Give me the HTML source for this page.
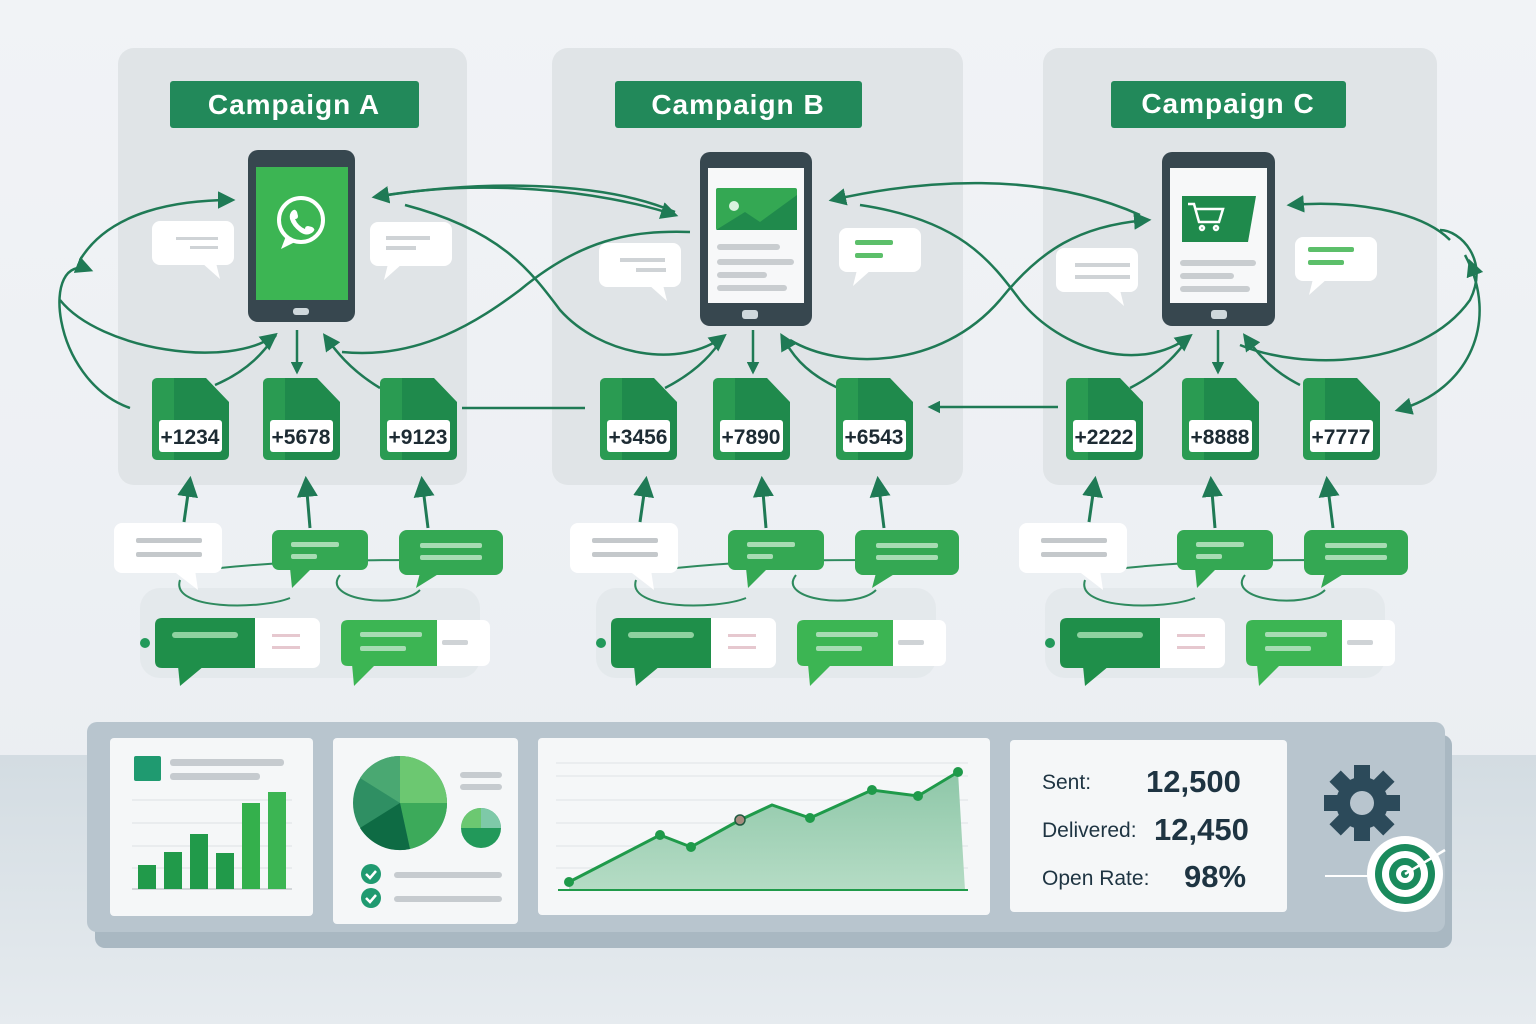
<!DOCTYPE html>
<html><head><meta charset="utf-8"><style>
html,body{margin:0;padding:0;width:1536px;height:1024px;overflow:hidden;background:#eef1f4}
svg{display:block}
text{font-family:"Liberation Sans",sans-serif}
</style></head><body>
<svg width="1536" height="1024" viewBox="0 0 1536 1024" xmlns="http://www.w3.org/2000/svg">
<defs>
<linearGradient id="bg" x1="0" y1="0" x2="0" y2="1"><stop offset="0" stop-color="#f1f3f6"/><stop offset="1" stop-color="#e9edf1"/></linearGradient>
<linearGradient id="floor" x1="0" y1="0" x2="0" y2="1"><stop offset="0" stop-color="#d3dce2"/><stop offset="1" stop-color="#e6ebef"/></linearGradient>
<linearGradient id="area" x1="0" y1="0" x2="0" y2="1"><stop offset="0" stop-color="#8ec7a8"/><stop offset="1" stop-color="#b5dcc5"/></linearGradient>
<marker id="ah" viewBox="0 0 10 10" refX="8" refY="5" markerWidth="7" markerHeight="7" orient="auto-start-reverse"><path d="M0,0L10,5L0,10z" fill="#1f7a55"/></marker>
<marker id="ah2" viewBox="0 0 10 10" refX="8" refY="5" markerWidth="5" markerHeight="5" orient="auto-start-reverse"><path d="M0,0L10,5L0,10z" fill="#1f7a55"/></marker>
<g id="sim"><path d="M0,6Q0,0 6,0H54L77,24V76Q77,82 71,82H6Q0,82 0,76z" fill="#1f8a4c"/><path d="M0,6Q0,0 6,0H22V82H6Q0,82 0,76z" fill="#2fa355" opacity=".7"/><rect x="7" y="42" width="63" height="32" rx="3" fill="#fff"/></g>
<g id="wb"><rect x="0" y="0" width="82" height="44" rx="8" fill="#fff"/><path d="M50,42L68,58L64,42z" fill="#fff"/></g>
</defs>
<rect width="1536" height="1024" fill="url(#bg)"/>
<rect y="755" width="1536" height="269" fill="url(#floor)"/>

<!-- panels -->
<rect x="118" y="48" width="349" height="437" rx="16" fill="#e0e4e7"/>
<rect x="552" y="48" width="411" height="437" rx="16" fill="#e0e4e7"/>
<rect x="1043" y="48" width="394" height="437" rx="16" fill="#e0e4e7"/>

<!-- headers -->
<rect x="170" y="81" width="249" height="47" rx="3" fill="#22895a"/>
<text x="294" y="114" text-anchor="middle" font-size="28" font-weight="bold" fill="#fff" letter-spacing="1">Campaign A</text>
<rect x="615" y="81" width="247" height="47" rx="3" fill="#22895a"/>
<text x="738" y="114" text-anchor="middle" font-size="28" font-weight="bold" fill="#fff" letter-spacing="1">Campaign B</text>
<rect x="1111" y="81" width="235" height="47" rx="3" fill="#22895a"/>
<text x="1228" y="113" text-anchor="middle" font-size="28" font-weight="bold" fill="#fff" letter-spacing="1">Campaign C</text>

<!-- connectors -->
<g fill="none" stroke="#1f7a55" stroke-width="2.5">
<path d="M130,408 C50,380 40,250 90,270" marker-end="url(#ah)"/>
<path d="M80,260 C110,210 180,200 232,200" marker-end="url(#ah)"/>
<path d="M60,300 C100,350 230,370 275,335" marker-end="url(#ah)"/>
<path d="M215,385 C250,370 265,350 276,335"/>
<path d="M297,330 V372" marker-end="url(#ah2)"/>
<path d="M380,388 C350,370 335,350 325,336" marker-end="url(#ah)"/>
<path d="M342,352 C420,360 480,320 520,290 C580,240 630,230 690,232"/>
<path d="M405,205 C500,230 530,270 560,310 C600,355 680,370 724,336" marker-end="url(#ah)"/>
<path d="M675,212 C600,180 480,180 375,197" marker-end="url(#ah)"/>
<path d="M375,197 C480,178 600,190 675,215" marker-end="url(#ah)"/>
<path d="M462,408 H585"/>
<path d="M665,388 C700,370 715,350 724,336"/>
<path d="M753,330 V372" marker-end="url(#ah2)"/>
<path d="M838,388 C800,370 790,350 782,336" marker-end="url(#ah)"/>
<path d="M790,340 C840,370 940,370 1000,300 C1040,250 1080,225 1148,220" marker-end="url(#ah)"/>
<path d="M860,205 C960,220 990,260 1020,300 C1060,350 1140,375 1190,336" marker-end="url(#ah)"/>
<path d="M1140,215 C1040,170 920,180 832,200" marker-end="url(#ah)"/>
<path d="M1058,407 H930" marker-end="url(#ah2)"/>
<path d="M1130,388 C1165,370 1180,350 1190,336"/>
<path d="M1218,330 V372" marker-end="url(#ah2)"/>
<path d="M1300,385 C1270,370 1255,350 1245,336" marker-end="url(#ah)"/>
<path d="M1240,345 C1300,370 1420,370 1470,300 C1490,260 1460,230 1440,230"/>
<path d="M1450,240 C1420,210 1350,200 1290,205" marker-end="url(#ah)"/>
<path d="M1465,255 C1500,320 1470,390 1398,410" marker-end="url(#ah)"/>
<path d="M1473,270 L1470,262" marker-end="url(#ah)"/>
</g>

<!-- phones -->
<rect x="248" y="150" width="107" height="172" rx="10" fill="#37474f"/>
<rect x="256" y="167" width="92" height="133" fill="#3cb553"/>
<rect x="293" y="308" width="16" height="7" rx="3" fill="#cfd8dc"/>
<circle cx="301" cy="220" r="22" fill="none" stroke="#fff" stroke-width="4"/>
<path d="M286,236 L281,249 L295,242" fill="#fff"/>
<path d="M292,211 q3,-3 5,1 l1,4 q0,3 -3,3 q3,7 10,10 q0,-3 3,-3 l4,1 q4,2 1,5 q-6,5 -13,0 q-8,-6 -10,-13 q-1,-5 2,-8z" fill="#fff"/>

<rect x="700" y="152" width="112" height="174" rx="10" fill="#37474f"/>
<rect x="708" y="168" width="96" height="135" fill="#f7f8f9"/>
<rect x="742" y="310" width="16" height="9" rx="3" fill="#cfd8dc"/>
<rect x="716" y="188" width="81" height="42" rx="2" fill="#34a853"/>
<path d="M716,230 L745,212 L760,222 L797,195 V230z" fill="#208a4c"/>
<circle cx="734" cy="206" r="5" fill="#d9f2df"/>
<g fill="#c9cdd0"><rect x="717" y="244" width="63" height="6" rx="3"/><rect x="717" y="259" width="77" height="6" rx="3"/><rect x="717" y="272" width="50" height="6" rx="3"/><rect x="717" y="285" width="70" height="6" rx="3"/></g>

<rect x="1162" y="152" width="113" height="174" rx="10" fill="#37474f"/>
<rect x="1170" y="168" width="97" height="135" fill="#f7f8f9"/>
<rect x="1211" y="310" width="16" height="9" rx="3" fill="#cfd8dc"/>
<path d="M1182,196 H1256 L1248,242 H1182z" fill="#1f8a4c"/>
<g stroke="#fff" stroke-width="2.5" fill="none"><path d="M1188,204 h6 l5,18 h20 l4,-13 h-27"/><circle cx="1202" cy="228" r="2"/><circle cx="1216" cy="228" r="2"/></g>
<g fill="#c9cdd0"><rect x="1180" y="260" width="76" height="6" rx="3"/><rect x="1180" y="273" width="54" height="6" rx="3"/><rect x="1180" y="286" width="70" height="6" rx="3"/></g>

<!-- side speech bubbles -->
<use href="#wb" x="152" y="221"/><g fill="#cfd3d6"><rect x="176" y="237" width="42" height="3"/><rect x="190" y="246" width="28" height="3"/></g>
<g transform="translate(452,222) scale(-1,1)"><use href="#wb" x="0" y="0"/></g><g fill="#cfd3d6"><rect x="386" y="236" width="44" height="4"/><rect x="386" y="246" width="30" height="4"/></g>
<use href="#wb" x="599" y="243"/><g fill="#cfd3d6"><rect x="620" y="258" width="45" height="4"/><rect x="636" y="268" width="30" height="4"/></g>
<g transform="translate(921,228) scale(-1,1)"><use href="#wb" x="0" y="0"/></g><g fill="#5cbf6a"><rect x="855" y="240" width="38" height="5" rx="2"/><rect x="855" y="253" width="28" height="5" rx="2"/></g>
<use href="#wb" x="1056" y="248"/><g fill="#cfd3d6"><rect x="1075" y="263" width="55" height="4"/><rect x="1075" y="275" width="55" height="4"/></g>
<g transform="translate(1377,237) scale(-1,1)"><use href="#wb" x="0" y="0"/></g><g fill="#5cbf6a"><rect x="1308" y="247" width="46" height="5" rx="2"/><rect x="1308" y="260" width="36" height="5" rx="2"/></g>

<!-- sims -->
<g font-size="21" font-weight="bold" fill="#1d2b33" text-anchor="middle">
<use href="#sim" x="152" y="378"/><text x="190" y="444">+1234</text>
<use href="#sim" x="263" y="378"/><text x="301" y="444">+5678</text>
<use href="#sim" x="380" y="378"/><text x="418" y="444">+9123</text>
<use href="#sim" x="600" y="378"/><text x="638" y="444">+3456</text>
<use href="#sim" x="713" y="378"/><text x="751" y="444">+7890</text>
<use href="#sim" x="836" y="378"/><text x="874" y="444">+6543</text>
<use href="#sim" x="1066" y="378"/><text x="1104" y="444">+2222</text>
<use href="#sim" x="1182" y="378"/><text x="1220" y="444">+8888</text>
<use href="#sim" x="1303" y="378"/><text x="1341" y="444">+7777</text>
</g>

<!-- bottom bubble groups -->
<g id="grp">
<g fill="none" stroke="#1f7a55" stroke-width="3">
<path d="M184,522 L190,480" marker-end="url(#ah)"/>
<path d="M310,528 L306,480" marker-end="url(#ah)"/>
<path d="M428,528 L422,480" marker-end="url(#ah)"/>
</g>
<rect x="140" y="588" width="340" height="90" rx="20" fill="#e4e9ec"/>
<g fill="none" stroke="#2e8a5e" stroke-width="2"><path d="M180,580 C170,610 260,610 290,598"/><path d="M220,568 C300,560 360,560 420,560"/><path d="M340,575 C320,600 400,610 420,590"/></g>
<rect x="114" y="523" width="108" height="50" rx="8" fill="#fff"/><path d="M172,570 L198,590 L195,570z" fill="#fff"/>
<g fill="#c4c8cb"><rect x="136" y="538" width="66" height="5" rx="2"/><rect x="136" y="552" width="66" height="5" rx="2"/></g>
<rect x="272" y="530" width="96" height="40" rx="7" fill="#34a853"/><path d="M290,568 L292,588 L312,568z" fill="#34a853"/>
<g fill="#a7dcb3"><rect x="291" y="542" width="48" height="5" rx="2"/><rect x="291" y="554" width="26" height="5" rx="2"/></g>
<rect x="399" y="530" width="104" height="45" rx="8" fill="#34a853"/><path d="M420,573 L416,588 L440,573z" fill="#34a853"/>
<g fill="#a7dcb3"><rect x="420" y="543" width="62" height="5" rx="2"/><rect x="420" y="555" width="62" height="5" rx="2"/></g>
<circle cx="145" cy="643" r="5" fill="#22995a"/>
<rect x="155" y="618" width="165" height="50" rx="7" fill="#fff"/>
<path d="M162,618 H255 V668 H162 Q155,668 155,661 V625 Q155,618 162,618z" fill="#1f8f4a"/><path d="M178,666 L180,686 L204,666z" fill="#1f8f4a"/>
<rect x="172" y="632" width="66" height="6" rx="3" fill="#8fd1a0"/>
<g fill="#e6c8cf"><rect x="272" y="634" width="28" height="3"/><rect x="272" y="646" width="28" height="3"/></g>
<rect x="341" y="620" width="149" height="46" rx="7" fill="#fff"/>
<path d="M348,620 H437 V666 H348 Q341,666 341,659 V627 Q341,620 348,620z" fill="#3cb553"/><path d="M352,664 L354,686 L376,664z" fill="#3cb553"/>
<g fill="#a7dcb3"><rect x="360" y="632" width="62" height="5" rx="2"/><rect x="360" y="646" width="46" height="5" rx="2"/></g>
<rect x="442" y="640" width="26" height="5" rx="2" fill="#cfd3d6"/>
</g>
<use href="#grp" x="456" y="0"/>
<use href="#grp" x="905" y="0"/>

<!-- dashboard -->
<rect x="95" y="735" width="1357" height="213" rx="10" fill="#a9b8c2"/>
<rect x="87" y="722" width="1358" height="210" rx="10" fill="#b8c5ce"/>
<rect x="110" y="738" width="203" height="178" rx="4" fill="#f5f7f8"/>
<rect x="134" y="756" width="27" height="25" rx="2" fill="#1f9a70"/>
<g fill="#c6cbcf"><rect x="170" y="759" width="114" height="7" rx="3"/><rect x="170" y="773" width="90" height="7" rx="3"/></g>
<g stroke="#dde1e4"><line x1="132" y1="800" x2="292" y2="800"/><line x1="132" y1="823" x2="292" y2="823"/><line x1="132" y1="846" x2="292" y2="846"/><line x1="132" y1="868" x2="292" y2="868"/></g>
<line x1="132" y1="889" x2="292" y2="889" stroke="#b0b6ba"/>
<g fill="#219a4a"><rect x="138" y="865" width="18" height="24"/><rect x="164" y="852" width="18" height="37"/><rect x="190" y="834" width="18" height="55"/><rect x="216" y="853" width="18" height="36"/><rect x="242" y="803" width="18" height="86" fill="#34b04c"/><rect x="268" y="792" width="18" height="97" fill="#3cb553"/></g>

<rect x="333" y="738" width="185" height="186" rx="4" fill="#f5f7f8"/>
<circle cx="400" cy="803" r="47" fill="#2f8f63"/>
<path d="M400,803 L400,756 A47,47 0 0 1 447,803z" fill="#6cc871"/>
<path d="M400,803 L447,803 A47,47 0 0 1 410,849z" fill="#3caa5a"/>
<path d="M400,803 L410,849 A47,47 0 0 1 360,828z" fill="#0e6b44"/>
<path d="M400,803 L400,756 A47,47 0 0 0 360,778z" fill="#4aa872"/>
<circle cx="481" cy="828" r="20" fill="#22995a"/><path d="M481,828 L481,808 A20,20 0 0 1 501,828z" fill="#7ec9a8"/><path d="M461,828 A20,20 0 0 1 481,808 V828z" fill="#6cc871"/>
<g fill="#c6cbcf"><rect x="460" y="772" width="42" height="6" rx="3"/><rect x="460" y="784" width="42" height="6" rx="3"/><rect x="394" y="872" width="108" height="6" rx="3"/><rect x="394" y="896" width="108" height="6" rx="3"/></g>
<circle cx="371" cy="874" r="10" fill="#1f9a70"/><circle cx="371" cy="898" r="10" fill="#1f9a70"/>
<path d="M366,874 l4,4 l6,-7 M366,898 l4,4 l6,-7" stroke="#fff" stroke-width="2.5" fill="none"/>

<rect x="538" y="738" width="452" height="177" rx="4" fill="#f5f7f8"/>
<g stroke="#dfe3e6"><line x1="556" y1="763" x2="968" y2="763"/><line x1="556" y1="776" x2="968" y2="776"/><line x1="556" y1="800" x2="968" y2="800"/><line x1="556" y1="823" x2="968" y2="823"/><line x1="556" y1="846" x2="968" y2="846"/><line x1="556" y1="868" x2="968" y2="868"/></g>
<path d="M569,882 L660,835 L691,847 L740,820 L772,805 L810,818 L872,790 L918,796 L958,772 L965,890 L569,890z" fill="url(#area)"/>
<polyline points="569,882 660,835 691,847 740,820 772,805 810,818 872,790 918,796 958,772" fill="none" stroke="#1f9a4a" stroke-width="3"/>
<line x1="558" y1="890" x2="968" y2="890" stroke="#1f9a4a" stroke-width="2"/>
<g fill="#1f9a4a"><circle cx="569" cy="882" r="5"/><circle cx="660" cy="835" r="5"/><circle cx="691" cy="847" r="5"/><circle cx="810" cy="818" r="5"/><circle cx="872" cy="790" r="5"/><circle cx="918" cy="796" r="5"/><circle cx="958" cy="772" r="5"/></g>
<circle cx="740" cy="820" r="5" fill="#a58b7e" stroke="#1f5a40" stroke-width="1.5"/>

<rect x="1010" y="740" width="277" height="172" rx="4" fill="#f5f7f8"/>
<g fill="#1e3442"><text x="1042" y="789" font-size="21">Sent:</text><text x="1146" y="792" font-size="31" font-weight="bold">12,500</text>
<text x="1042" y="837" font-size="21">Delivered:</text><text x="1154" y="840" font-size="31" font-weight="bold">12,450</text>
<text x="1042" y="885" font-size="21">Open Rate:</text><text x="1184" y="887" font-size="31" font-weight="bold">98%</text></g>

<g transform="translate(1362,803)" fill="#2c4a5a"><circle r="26"/><g><rect x="-8" y="-38" width="16" height="76"/><rect x="-38" y="-8" width="76" height="16"/><rect x="-8" y="-38" width="16" height="76" transform="rotate(45)"/><rect x="-8" y="-38" width="16" height="76" transform="rotate(-45)"/></g><circle r="12" fill="#b8c5ce"/></g>
<line x1="1325" y1="876" x2="1380" y2="876" stroke="#fff" stroke-width="2"/>
<circle cx="1405" cy="874" r="38" fill="#fff"/>
<circle cx="1405" cy="874" r="30" fill="#1a8a5c"/><circle cx="1405" cy="874" r="23" fill="#fff"/><circle cx="1405" cy="874" r="16" fill="#1a8a5c"/><circle cx="1405" cy="874" r="9" fill="#fff"/><circle cx="1405" cy="874" r="4" fill="#1a8a5c"/>
<line x1="1405" y1="874" x2="1445" y2="850" stroke="#fff" stroke-width="2.5"/>
</svg>
</body></html>
